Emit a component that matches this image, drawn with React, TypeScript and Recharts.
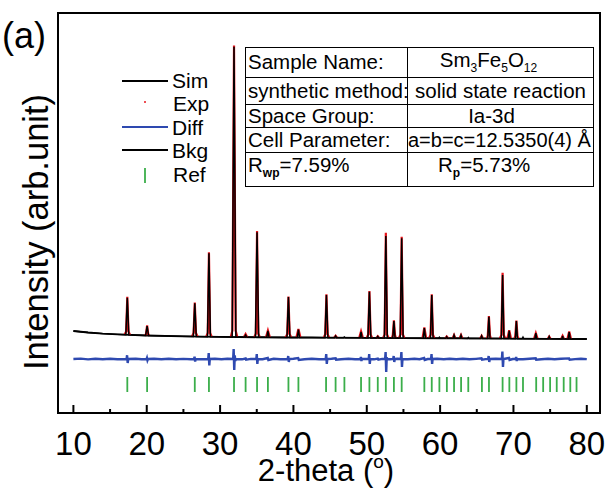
import React from 'react';
import { ComposedChart, Line, Scatter, XAxis, YAxis, CartesianGrid } from 'recharts';

// 2-theta (deg) / intensity (counts)
const xTicks = [10, 15, 20, 25, 30, 35, 40, 45, 50, 55, 60, 65, 70, 75, 80];

const bkgPoints: [number, number][] = [
  [10, 680], [12, 620], [14, 575], [16, 545], [20, 500], [25, 465], [30, 445], [35, 430],
  [40, 420], [45, 412], [50, 405], [55, 398], [60, 390], [65, 382], [70, 374], [75, 367], [80, 360],
];

const simPoints: [number, number][] = [
  [10, 680], [12, 620], [14, 575], [16, 545],
  [17.15, 528], [17.35, 2010], [17.55, 525], [19, 510],
  [19.85, 502], [20.05, 880], [20.25, 500], [23, 478],
  [26.35, 462], [26.55, 1790], [26.75, 460],
  [28.28, 453], [28.48, 3790], [28.68, 452],
  [31.65, 441], [31.9, 12050], [32.15, 440],
  [33.33, 436], [33.48, 520], [33.63, 435],
  [34.82, 431], [35.04, 4630], [35.26, 430],
  [36.37, 428], [36.52, 680], [36.67, 427],
  [39.12, 422], [39.32, 2040], [39.52, 421],
  [40.53, 419], [40.68, 740], [40.83, 419], [42.5, 416],
  [44.3, 413], [44.5, 2120], [44.7, 413],
  [45.62, 411], [45.75, 480], [45.88, 411],
  [46.82, 410], [46.94, 440], [47.06, 410],
  [49.08, 406], [49.22, 650], [49.36, 406],
  [50.16, 405], [50.36, 2250], [50.56, 404],
  [51.38, 403], [51.5, 460], [51.62, 403],
  [52.4, 401], [52.6, 4480], [52.8, 401],
  [53.55, 400], [53.7, 1080], [53.85, 400],
  [54.56, 398], [54.76, 4390], [54.96, 398], [56.5, 395],
  [57.7, 393], [57.85, 800], [58.0, 393],
  [58.68, 392], [58.86, 2120], [59.04, 392],
  [59.8, 390], [59.9, 430], [60.0, 390],
  [60.78, 389], [60.9, 450], [61.02, 389],
  [61.78, 387], [61.9, 510], [62.02, 387],
  [62.73, 386], [62.85, 510], [62.97, 386],
  [63.75, 384], [63.85, 420], [63.95, 384],
  [65.54, 381], [65.66, 480], [65.78, 381],
  [66.5, 380], [66.65, 1250], [66.8, 380],
  [68.34, 377], [68.52, 2920], [68.7, 377],
  [69.3, 376], [69.42, 690], [69.54, 376],
  [70.26, 374], [70.4, 1080], [70.54, 374],
  [71.2, 373], [71.3, 430], [71.4, 373],
  [72.92, 370], [73.05, 590], [73.18, 370],
  [74.77, 368], [74.87, 450], [74.97, 368],
  [76.6, 365], [76.7, 480], [76.8, 365],
  [77.46, 364], [77.6, 640], [77.74, 364], [80, 360],
];

// observed points around each reflection (red skirts)
const expPeaks: [number, number][][] = [
  [[16.97, 527], [17.19, 666], [17.35, 2050], [17.51, 665], [17.73, 524]],
  [[19.75, 501], [19.9, 560], [20.05, 900], [20.2, 560], [20.35, 499]],
  [[26.17, 461], [26.39, 600], [26.55, 1820], [26.71, 600], [26.93, 459]],
  [[28.1, 453], [28.32, 600], [28.48, 3830], [28.64, 600], [28.86, 451]],
  [[31.45, 441], [31.68, 700], [31.9, 12100], [32.12, 700], [32.35, 439]],
  [[33.25, 436], [33.48, 560], [33.71, 434]],
  [[34.66, 431], [34.88, 580], [35.04, 4680], [35.2, 580], [35.42, 429]],
  [[36.25, 428], [36.52, 700], [36.79, 426]],
  [[38.94, 422], [39.16, 560], [39.32, 2060], [39.48, 560], [39.7, 420]],
  [[40.4, 419], [40.68, 760], [40.96, 418]],
  [[44.12, 414], [44.34, 550], [44.5, 2150], [44.66, 550], [44.88, 412]],
  [[45.55, 411], [45.75, 490], [45.95, 411]],
  [[48.97, 406], [49.22, 670], [49.47, 405]],
  [[49.98, 405], [50.2, 545], [50.36, 2280], [50.52, 545], [50.74, 404]],
  [[51.3, 403], [51.5, 470], [51.7, 402]],
  [[52.22, 401], [52.44, 540], [52.6, 4610], [52.76, 540], [52.98, 400]],
  [[53.42, 400], [53.55, 520], [53.7, 1110], [53.85, 520], [53.98, 399]],
  [[54.38, 398], [54.6, 540], [54.76, 4450], [54.92, 540], [55.14, 397]],
  [[57.6, 393], [57.85, 820], [58.1, 393]],
  [[58.48, 392], [58.7, 530], [58.86, 2150], [59.02, 530], [59.24, 391]],
  [[60.7, 389], [60.9, 460], [61.1, 389]],
  [[61.7, 387], [61.9, 520], [62.1, 387]],
  [[62.65, 386], [62.85, 520], [63.05, 386]],
  [[65.46, 381], [65.66, 490], [65.86, 381]],
  [[66.37, 380], [66.5, 500], [66.65, 1280], [66.8, 500], [66.93, 380]],
  [[68.14, 377], [68.36, 520], [68.52, 3010], [68.68, 520], [68.9, 376]],
  [[69.17, 376], [69.42, 710], [69.67, 375]],
  [[70.12, 374], [70.25, 480], [70.4, 1100], [70.55, 480], [70.68, 374]],
  [[72.8, 370], [73.05, 600], [73.3, 370]],
  [[74.67, 368], [74.87, 460], [75.07, 368]],
  [[76.5, 365], [76.7, 490], [76.9, 365]],
  [[77.35, 364], [77.6, 660], [77.85, 364]],
];

// difference curve, plotted with an offset of -440
const diffPoints: [number, number][] = [
  [10, -440], [11, -425], [12, -455], [13, -430], [14, -450], [15, -432], [16, -448],
  [17.25, -440], [17.32, -290], [17.4, -600], [17.48, -440], [18.5, -430], [19.3, -452],
  [19.98, -440], [20.03, -400], [20.1, -490], [20.17, -440],
  [21, -428], [22, -452], [23, -432], [24, -450], [25, -434], [26, -448],
  [26.45, -440], [26.52, -350], [26.6, -540], [26.67, -440], [27.5, -450],
  [28.38, -440], [28.45, -200], [28.53, -700], [28.6, -440],
  [29.3, -430], [30.2, -452], [31, -432],
  [31.78, -440], [31.85, -40], [31.93, -880], [32.0, -300], [32.08, -520], [32.15, -440],
  [33, -452], [33.48, -420], [33.55, -470], [34.2, -434],
  [34.94, -440], [35.0, -240], [35.08, -640], [35.15, -440],
  [35.8, -448], [36.5, -400], [36.58, -480], [37.3, -430], [38.2, -452],
  [39.22, -440], [39.29, -320], [39.37, -560], [39.44, -440],
  [40, -430], [40.65, -400], [40.73, -480], [41.5, -450], [42.5, -432], [43.5, -452],
  [44.4, -440], [44.47, -240], [44.55, -640], [44.62, -440],
  [45.2, -432], [45.75, -410], [45.82, -470], [46.5, -450], [47.5, -430], [48.4, -452],
  [49.13, -440], [49.2, -360], [49.27, -520], [49.34, -440],
  [50.26, -440], [50.33, -240], [50.41, -640], [50.48, -440],
  [51, -452], [51.5, -420], [51.58, -465], [52.1, -436],
  [52.5, -440], [52.57, -160], [52.65, -960], [52.72, -380], [52.8, -440], [53.2, -450],
  [53.6, -440], [53.67, -320], [53.75, -560], [53.82, -440], [54.2, -432],
  [54.65, -440], [54.72, -160], [54.8, -760], [54.87, -440],
  [55.6, -452], [56.5, -430], [57.2, -450], [57.82, -400], [57.9, -480], [58.3, -440],
  [58.76, -440], [58.83, -240], [58.91, -640], [58.98, -440],
  [59.6, -430], [60.5, -452], [61.3, -432], [62.2, -450], [63.1, -430], [64, -452],
  [64.9, -434], [65.64, -415], [65.72, -470], [66.2, -446],
  [66.55, -440], [66.62, -320], [66.7, -560], [66.77, -440], [67.6, -430],
  [68.42, -440], [68.49, -140], [68.57, -760], [68.64, -440],
  [69.4, -400], [69.47, -480], [69.9, -440],
  [70.3, -440], [70.37, -360], [70.45, -520], [70.52, -440],
  [71.3, -452], [72.2, -430], [73.03, -415], [73.1, -470], [73.8, -448], [74.7, -430],
  [75.6, -450], [76.5, -432], [77.58, -415], [77.66, -470], [78.4, -446], [79.2, -430], [80, -445],
];

const refPositions = [
  17.35, 20.05, 26.55, 28.48, 31.9, 33.48, 35.04, 36.52, 39.32, 40.68,
  44.45, 45.75, 46.95, 49.22, 50.36, 51.5, 52.6, 53.7, 54.76,
  57.85, 58.86, 59.9, 60.92, 61.9, 62.86, 63.84,
  65.7, 66.66, 68.52, 69.44, 70.4, 71.3,
  73.1, 74.05, 75.0, 75.9, 76.85, 77.75, 78.6,
];
const refLevel = -1160;

const toRows = (pts: [number, number][]) => pts.map(([x, y]) => ({ x, y }));
const simRows = toRows(simPoints);
const bkgRows = toRows(bkgPoints);
const diffRows = toRows(diffPoints);
const expRows = expPeaks.flatMap((seg) => [
  ...toRows(seg),
  { x: seg[seg.length - 1][0], y: null as number | null },
]);
const refRows = refPositions.map((x) => ({ x, y: refLevel }));

const font = '"Liberation Sans", Arial, Helvetica, sans-serif';
const X_DOMAIN: [number, number] = [7.9, 81.8];
const Y_DOMAIN: [number, number] = [-2600, 13400];

const XTick = (props: any) => {
  const { x, y, payload } = props;
  const major = payload.value % 10 === 0;
  return (
    <g>
      <line x1={x} x2={x} y1={y} y2={y - (major ? 8 : 4)} stroke="#000" strokeWidth={2} />
      {major && (
        <text x={x} y={y + 42} textAnchor="middle" fontSize={33} fill="#000" fontFamily={font}>
          {payload.value}
        </text>
      )}
    </g>
  );
};

const RefTick = (props: any) => (
  <line x1={props.cx} x2={props.cx} y1={props.cy} y2={props.cy + 15} stroke="#3bae4a" strokeWidth={1.8} />
);

const cell: React.CSSProperties = {
  border: '1.3px solid #000',
  padding: '0 2px',
  whiteSpace: 'nowrap',
  lineHeight: 1,
};

export default function App() {
  return (
    <div style={{ position: 'absolute', left: 0, top: 0, width: 605, height: 488, background: '#fff', fontFamily: font, overflow: 'hidden' }}>
      <ComposedChart width={605} height={488} margin={{ top: 13, right: 5, bottom: 35, left: 58 }}>
        <CartesianGrid
          stroke="#000"
          strokeWidth={2}
          horizontalValues={[Y_DOMAIN[0], Y_DOMAIN[1]]}
          verticalValues={[X_DOMAIN[0], X_DOMAIN[1]]}
          fill="none"
        />
        <XAxis
          type="number"
          dataKey="x"
          domain={X_DOMAIN}
          allowDataOverflow
          ticks={xTicks}
          interval={0}
          tickSize={0}
          tickMargin={0}
          axisLine={{ stroke: '#000', strokeWidth: 2 }}
          tick={<XTick />}
          height={40}
        />
        <YAxis type="number" dataKey="y" domain={Y_DOMAIN} allowDataOverflow hide />
        <Line data={diffRows} dataKey="y" stroke="#2e49b0" strokeWidth={2.4} dot={false} isAnimationActive={false} />
        <Scatter data={refRows} fill="#3bae4a" shape={<RefTick />} isAnimationActive={false} />
        <Line data={bkgRows} dataKey="y" stroke="#000" strokeWidth={1.8} dot={false} isAnimationActive={false} />
        <Line data={expRows} dataKey="y" stroke="#e8141b" strokeWidth={2.2} dot={false} isAnimationActive={false} />
        <Line data={simRows} dataKey="y" stroke="#000" strokeWidth={1.5} dot={false} isAnimationActive={false} />
      </ComposedChart>

      <svg width={605} height={488} style={{ position: 'absolute', left: 0, top: 0, pointerEvents: 'none' }} fontFamily={font}>
        {/* plot frame */}
        <g stroke="#000" strokeWidth={2}>
          <line x1={58} x2={58} y1={12} y2={414} />
          <line x1={600} x2={600} y1={12} y2={414} />
          <line x1={57} x2={601} y1={13} y2={13} />
          <line x1={57} x2={601} y1={413} y2={413} />
        </g>
        <text x={2} y={48} fontSize={36} fill="#000">(a)</text>
        <text x={48} y={232} fontSize={34.5} fill="#000" textAnchor="middle" transform="rotate(-90 48 232)">
          Intensity (arb.unit)
        </text>
        <text x={326} y={481} fontSize={31} fill="#000" textAnchor="middle">
          2-theta (<tspan fontSize={19} dy={-13}>o</tspan><tspan dy={13}>)</tspan>
        </text>
        {/* legend */}
        <g fontSize={21} fill="#000">
          <line x1={122} x2={168} y1={81} y2={81} stroke="#000" strokeWidth={2} />
          <text x={172} y={88}>Sim</text>
          <circle cx={145} cy={102} r={1} fill="#e8141b" />
          <text x={173} y={111}>Exp</text>
          <line x1={122} x2={168} y1={127} y2={127} stroke="#2e49b0" strokeWidth={2} />
          <text x={172} y={135}>Diff</text>
          <line x1={122} x2={168} y1={150} y2={150} stroke="#000" strokeWidth={2} />
          <text x={172} y={158}>Bkg</text>
          <line x1={145} x2={145} y1={168} y2={183} stroke="#3bae4a" strokeWidth={1.8} />
          <text x={173} y={182}>Ref</text>
        </g>
      </svg>

      <table
        style={{
          position: 'absolute',
          left: 245,
          top: 47,
          width: 348,
          height: 139,
          borderCollapse: 'collapse',
          border: '1.6px solid #000',
          fontSize: 20.5,
          fontFamily: font,
          tableLayout: 'fixed',
          background: 'transparent',
        }}
      >
        <colgroup>
          <col style={{ width: 162 }} />
          <col style={{ width: 186 }} />
        </colgroup>
        <tbody>
          <tr style={{ height: 30 }}>
            <td style={cell}>Sample Name:</td>
            <td style={{ ...cell, textAlign: 'center', paddingRight: 26 }}>
              Sm<sub style={{ fontSize: 12 }}>3</sub>Fe<sub style={{ fontSize: 12 }}>5</sub>O<sub style={{ fontSize: 12 }}>12</sub>
            </td>
          </tr>
          <tr style={{ height: 27 }}>
            <td style={cell}>synthetic method:</td>
            <td style={{ ...cell, textAlign: 'center' }}>solid state reaction</td>
          </tr>
          <tr style={{ height: 23 }}>
            <td style={cell}>Space Group:</td>
            <td style={{ ...cell, textAlign: 'center', paddingRight: 20 }}>Ia-3d</td>
          </tr>
          <tr style={{ height: 25 }}>
            <td style={cell}>Cell Parameter:</td>
            <td style={{ ...cell, padding: 0, fontSize: 20 }}>a=b=c=12.5350(4) Å</td>
          </tr>
          <tr style={{ height: 34 }}>
            <td style={{ ...cell, verticalAlign: 'top', paddingTop: 2 }}>
              R<sub style={{ fontSize: 12, fontWeight: 'bold' }}>wp</sub>=7.59%
            </td>
            <td style={{ ...cell, verticalAlign: 'top', paddingTop: 2, paddingLeft: 30 }}>
              R<sub style={{ fontSize: 12, fontWeight: 'bold' }}>p</sub>=5.73%
            </td>
          </tr>
        </tbody>
      </table>
    </div>
  );
}
